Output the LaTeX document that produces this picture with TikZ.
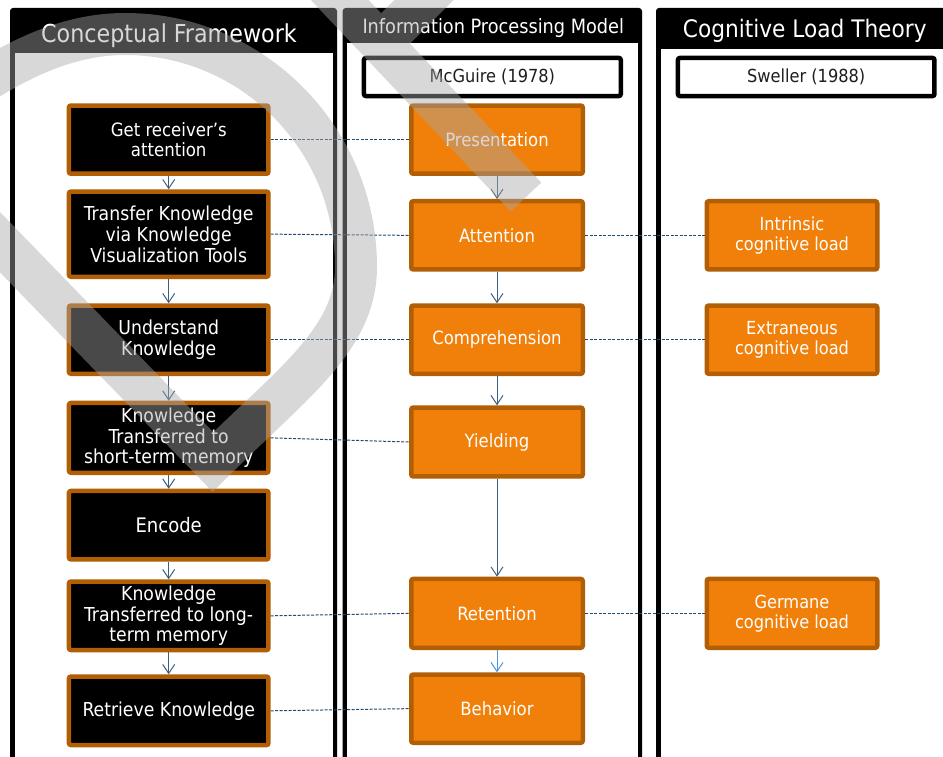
\documentclass[tikz,border=0pt]{standalone}
\usepackage{fontspec}
\setmainfont{DejaVu Sans Condensed}
\usetikzlibrary{arrows.meta}
\definecolor{boxorange}{RGB}{240,128,10}
\definecolor{boxbrown}{RGB}{178,94,4}
\definecolor{arrowc}{RGB}{60,95,125}
\definecolor{arrowl}{RGB}{70,150,220}
\definecolor{dashc}{RGB}{35,75,110}
\definecolor{wmgray}{RGB}{168,168,168}
\definecolor{subtext}{RGB}{30,30,30}
\begin{document}
\begin{tikzpicture}[x=1pt,y=-1pt,
  cfbox/.style={draw=boxbrown, fill=black, line width=4.5pt, rounded corners=2pt,
    minimum width=199.5pt, inner sep=0pt, align=center, text=white,
    font=\fontsize{19.2}{20.8}\selectfont},
  ipbox/.style={draw=boxbrown, fill=boxorange, line width=4.5pt, rounded corners=2pt,
    minimum width=171.5pt, inner sep=0pt, align=center, text=white,
    font=\fontsize{18.3}{20}\selectfont},
  clbox/.style={ipbox, minimum width=170.5pt, font=\fontsize{18}{20}\selectfont},
  subbox/.style={draw=black, fill=white, line width=4.5pt, rounded corners=2pt,
    minimum height=38.1pt, inner sep=0pt, text=subtext,
    font=\fontsize{18}{20}\selectfont},
  headtext/.style={text=white, inner sep=0pt, anchor=base},
  flow/.style={draw=arrowc, line width=1pt, -{Straight Barb[length=9pt,width=12pt]}},
  flowlight/.style={flow, draw=arrowl},
  link/.style={draw=dashc, line width=1pt, dash pattern=on 3pt off 1.5pt}
]
\useasboundingbox (0,0) rectangle (943,757);
\clip (0,0) rectangle (943,757);
\fill[white] (0,0) rectangle (943,757);

% column frames
\fill[black, rounded corners=3pt] (10,8) rectangle (337,800);
\fill[white] (14.7,53) rectangle (333,800);
\fill[black, rounded corners=3pt] (342.7,8) rectangle (642,800);
\fill[white] (347,43) rectangle (637.5,800);
\fill[black, rounded corners=3pt] (656,8) rectangle (970,800);
\fill[white] (661,49) rectangle (970,800);

% headers
\node[headtext, font=\fontsize{24.7}{26}\selectfont] (h1) at (169,43) {Conceptual Framework};
\node[headtext, font=\fontsize{19.7}{21}\selectfont] (h2) at (493.3,34) {Information Processing Model};
\node[headtext, font=\fontsize{24.1}{26}\selectfont] (h3) at (804.8,38) {Cognitive Load Theory};

\node[subbox, minimum width=256.8pt] (mcg) at (492.35,77) {McGuire (1978)};
\node[subbox, minimum width=256.5pt] (swe) at (806.2,77) {Sweller (1988)};

% conceptual framework
\node[cfbox, minimum height=68.2pt, font=\fontsize{18.4}{19.8}\selectfont] (b1) at (168.7,139.65) {Get receiver’s\\attention};
\node[cfbox, minimum height=85.2pt] (b2) at (168.7,234.15) {Transfer Knowledge\\via Knowledge\\Visualization Tools};
\node[cfbox, minimum height=68.2pt] (b3) at (168.7,339.65) {Understand\\Knowledge};
\node[cfbox, minimum height=69.8pt] (b4) at (168.7,437.85) {Knowledge\\Transferred to\\short-term memory};
\node[cfbox, minimum height=68.5pt, font=\fontsize{20}{21}\selectfont] (b5) at (168.7,525.2) {Encode};
\node[cfbox, minimum height=68.5pt] (b6) at (168.7,615.8) {Knowledge\\Transferred to long-\\term memory};
\node[cfbox, minimum height=68.5pt] (b7) at (168.7,710.8) {Retrieve Knowledge};

% information processing model
\node[ipbox, minimum height=68.2pt] (p1) at (497,139.65) {Presentation};
\node[ipbox, minimum height=68.2pt] (p2) at (497,235.35) {Attention};
\node[ipbox, minimum height=68.2pt] (p3) at (497,339.65) {Comprehension};
\node[ipbox, minimum height=68.9pt] (p4) at (497,442) {Yielding};
\node[ipbox, minimum height=68.8pt] (p5) at (497,613.35) {Retention};
\node[ipbox, minimum height=68.2pt] (p6) at (497,708.65) {Behavior};

% cognitive load theory
\node[clbox, minimum height=68.2pt] (c1) at (792,235.35) {Intrinsic\\cognitive load};
\node[clbox, minimum height=68.2pt] (c2) at (792,339.65) {Extraneous\\cognitive load};
\node[clbox, minimum height=68.8pt] (c3) at (792,613.35) {Germane\\cognitive load};

% flow arrows
\draw[flow] (b1) -- (b2);
\draw[flow] (b2) -- (b3);
\draw[flow] (b3) -- (b4);
\draw[flow] (b4) -- (b5);
\draw[flow] (b5) -- (b6);
\draw[flow] (b6) -- (b7);
\draw[flow] (p1) -- (p2);
\draw[flow] (p2) -- (p3);
\draw[flow] (p3) -- (p4);
\draw[flow] (p4) -- (p5);
\draw[flowlight] (p5) -- (p6);

% dashed links
\draw[link] (b1.east) -- (p1.west);
\draw[link] (b2.east) -- (p2.west);
\draw[link] (b3.east) -- (p3.west);
\draw[link] (b4.east) -- (p4.west);
\draw[link] (b6.east) -- (p5.west);
\draw[link] (b7.east) -- (p6.west);
\draw[link] (p2.east) -- (c1.west);
\draw[link] (p3.east) -- (c2.west);
\draw[link] (p5.east) -- (c3.west);

% watermark
\draw[draw=wmgray, draw opacity=0.44, line width=42pt, line join=miter, line cap=butt]
  (-100,139) -- (213,462) .. controls (290,385) and (356,340) .. (356,267)
  .. controls (356,138.4) and (252.5,34) .. (125,34)
  .. controls (40,34) and (-30,90) .. cycle
  (300,-42) -- (526,197)
  (480,-56) -- (380.8,43.2);
\end{tikzpicture}
\end{document}
